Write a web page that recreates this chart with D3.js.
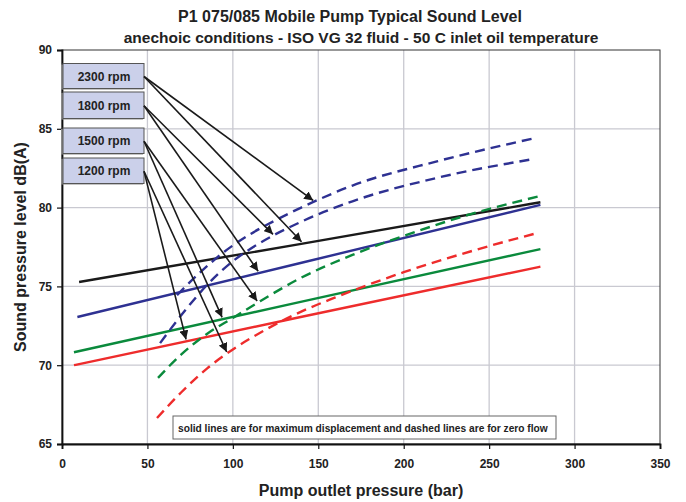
<!DOCTYPE html>
<html><head><meta charset="utf-8">
<script src="https://cdn.jsdelivr.net/npm/d3@7"></script>
<style>
html,body{margin:0;padding:0;background:#fff;}
svg{display:block;font-family:"Liberation Sans",Arial,sans-serif;}
</style></head>
<body><svg id="c" width="686" height="502"></svg>
<script>
// ---- data ----
const xTicks = [0,50,100,150,200,250,300,350];
const yTicks = [65,70,75,80,85,90];
const rpmLabels = ["2300 rpm","1800 rpm","1500 rpm","1200 rpm"];
// solid lines: maximum displacement  [pressure bar, dB(A)]
const solid2300 = [[10,75.28],[140,77.70],[280,80.34]];
const solid1800 = [[9,73.06],[139,76.47],[280,80.17]];
const solid1500 = [[7,70.82],[139,74.00],[280,77.37]];
const solid1200 = [[7,70.00],[139,73.04],[280,76.25]];
// dashed lines: zero flow
const dash2300 = [[67.3,74.45],[80,75.8],[95,77.2],[110,78.3],[125,79.2],[140,80.0],[170,81.4],[220,82.95],[278,84.44]];
const dash1800 = [[57.4,71.4],[70,73.2],[85,75.1],[100,76.6],[115,77.7],[140,79.1],[170,80.4],[220,81.9],[276,83.08]];
const dash1500 = [[56.2,69.2],[70,70.7],[85,72.0],[100,73.0],[115,74.0],[140,75.55],[170,77.0],[200,78.2],[235,79.45],[280,80.74]];
const dash1200 = [[55.6,66.65],[70,68.3],[85,69.8],[100,71.0],[120,72.3],[140,73.4],[160,74.3],[200,75.9],[240,77.25],[279,78.41]];
// arrow targets: [label index, series, pressure]
const arrowTargets = [
  [0,"dash2300",147],[0,"solid2300",140.2],
  [1,"dash1800",123.5],[1,"solid1800",114.8],
  [2,"dash1500",114.2],[2,"solid1500",93.7],
  [3,"solid1200",72.6],[3,"dash1200",96.4]
];
const noteText = "solid lines are for maximum displacement and dashed lines are for zero flow";

const series = [
  {name:"solid2300",data:solid2300,color:"#1a1a1a",dash:null},
  {name:"solid1800",data:solid1800,color:"#2e3192",dash:null},
  {name:"solid1500",data:solid1500,color:"#0a8a3c",dash:null},
  {name:"solid1200",data:solid1200,color:"#ee2c2c",dash:null},
  {name:"dash2300",data:dash2300,color:"#2e3192",dash:"10,6"},
  {name:"dash1800",data:dash1800,color:"#2e3192",dash:"10,6"},
  {name:"dash1500",data:dash1500,color:"#0a8a3c",dash:"10,6"},
  {name:"dash1200",data:dash1200,color:"#ee2c2c",dash:"10,6"}
];

// ---- chart ----
const svg = d3.select("#c");
const x = d3.scaleLinear().domain([0,350]).range([62,660]);
const y = d3.scaleLinear().domain([65,90]).range([444,50]);

// grid
svg.append("g").selectAll("line").data(xTicks.slice(1,-1)).join("line")
  .attr("x1",d=>x(d)).attr("x2",d=>x(d)).attr("y1",y(90)).attr("y2",y(65))
  .attr("stroke","#c9c9d1").attr("stroke-width",1.3);
svg.append("g").selectAll("line").data(yTicks.slice(1,-1)).join("line")
  .attr("x1",x(0)).attr("x2",x(350)).attr("y1",d=>y(d)).attr("y2",d=>y(d))
  .attr("stroke","#c9c9d1").attr("stroke-width",1.3);

// frame
svg.append("rect").attr("x",x(0)).attr("y",y(90)).attr("width",x(350)-x(0)).attr("height",y(65)-y(90))
  .attr("fill","none").attr("stroke","#333").attr("stroke-width",1);

// axes
const xAxis = svg.append("g").attr("transform",`translate(0,${y(65)})`)
  .call(d3.axisBottom(x).tickValues(xTicks).tickSize(5).tickPadding(10));
const yAxis = svg.append("g").attr("transform",`translate(${x(0)},0)`)
  .call(d3.axisLeft(y).tickValues(yTicks).tickSize(5).tickPadding(5));
[xAxis,yAxis].forEach(a=>{
  a.select(".domain").attr("stroke","#111").attr("stroke-width",1.8);
  a.selectAll(".tick line").attr("stroke","#111").attr("stroke-width",1.2);
  a.selectAll("text").attr("font-size",12).attr("font-weight","bold").attr("fill","#222")
    .attr("font-family","'Liberation Sans',Arial,sans-serif");
});

// lines
const line = d3.line().x(d=>x(d[0])).y(d=>y(d[1])).curve(d3.curveMonotoneX);
svg.append("g").selectAll("path").data(series).join("path")
  .attr("d",d=>line(d.data)).attr("fill","none")
  .attr("stroke",d=>d.color).attr("stroke-width",2.4)
  .attr("stroke-dasharray",d=>d.dash);

// rpm boxes
const boxes = [{y0:63.5,y1:88.5},{y0:92,y1:118.5},{y0:128,y1:153.5},{y0:158,y1:183.5}];
const bx0 = 62, bx1 = 144;
const bg = svg.append("g");
bg.selectAll("rect.sh").data(boxes).join("rect")
  .attr("x",bx0-1).attr("y",d=>d.y0+1).attr("width",bx1-bx0).attr("height",d=>d.y1-d.y0)
  .attr("fill","#8a8a8a");
bg.selectAll("rect.bx").data(boxes).join("rect")
  .attr("x",bx0+1).attr("y",d=>d.y0).attr("width",bx1-bx0-1).attr("height",d=>d.y1-d.y0)
  .attr("fill","#cbd0ea").attr("stroke","#555").attr("stroke-width",1);
bg.selectAll("text").data(boxes).join("text")
  .attr("x",(bx0+bx1)/2+1).attr("y",d=>(d.y0+d.y1)/2+4.5).attr("text-anchor","middle")
  .attr("font-size",12).attr("font-weight","bold").attr("fill","#222")
  .text((d,i)=>rpmLabels[i]);

// arrows
function interp(data,px){
  for(let i=0;i<data.length-1;i++){
    const a=data[i],b=data[i+1];
    if(px>=a[0]&&px<=b[0]) return a[1]+(b[1]-a[1])*(px-a[0])/(b[0]-a[0]);
  }
  return data[data.length-1][1];
}
const byName = Object.fromEntries(series.map(s=>[s.name,s.data]));
svg.append("defs").append("marker").attr("id","ah").attr("viewBox","0 0 10 10")
  .attr("refX",10).attr("refY",5).attr("markerWidth",9).attr("markerHeight",9)
  .attr("markerUnits","userSpaceOnUse").attr("orient","auto")
  .append("path").attr("d","M0,0 L10,5 L0,10 z").attr("fill","#1a1a1a");
svg.append("g").selectAll("line").data(arrowTargets).join("line")
  .attr("x1",bx1).attr("y1",d=>(boxes[d[0]].y0+boxes[d[0]].y1)/2+0.5)
  .attr("x2",d=>x(d[2])).attr("y2",d=>y(interp(byName[d[1]],d[2]))-2)
  .attr("stroke","#1a1a1a").attr("stroke-width",1.6).attr("marker-end","url(#ah)");

// note
svg.append("rect").attr("x",173).attr("y",416).attr("width",383).attr("height",23)
  .attr("fill","#fff").attr("stroke","#666").attr("stroke-width",1);
svg.append("text").attr("x",178).attr("y",431.5).attr("font-size",10.2).attr("font-weight","bold")
  .attr("fill","#222").text(noteText);

// titles
svg.append("text").attr("x",350).attr("y",22).attr("text-anchor","middle")
  .attr("font-size",16).attr("font-weight","bold").attr("fill","#222")
  .text("P1 075/085 Mobile Pump Typical Sound Level");
svg.append("text").attr("x",361).attr("y",43).attr("text-anchor","middle")
  .attr("font-size",15.5).attr("font-weight","bold").attr("fill","#222")
  .text("anechoic conditions - ISO VG 32 fluid - 50 C inlet oil temperature");
svg.append("text").attr("x",361).attr("y",496).attr("text-anchor","middle")
  .attr("font-size",16).attr("font-weight","bold").attr("fill","#222")
  .text("Pump outlet pressure (bar)");
svg.append("text").attr("transform",`translate(26,247) rotate(-90)`).attr("text-anchor","middle")
  .attr("font-size",16).attr("font-weight","bold").attr("fill","#222")
  .text("Sound pressure level dB(A)");
</script></body></html>
